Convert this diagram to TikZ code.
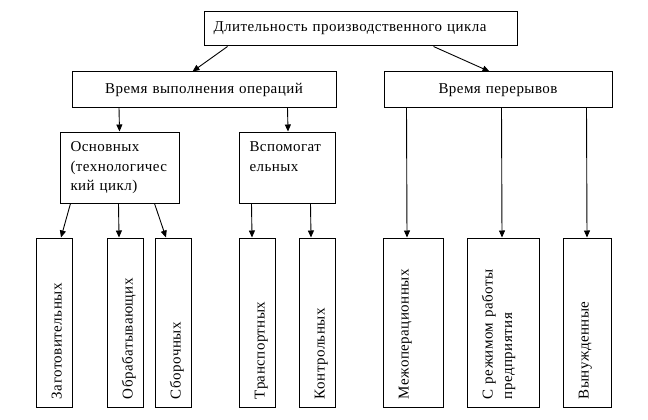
\documentclass[tikz,border=0pt]{standalone}
\usepackage{fontspec}
\setmainfont{Liberation Serif}[LetterSpace=3]
\usetikzlibrary{arrows.meta}
\begin{document}
\begin{tikzpicture}[x=1pt,y=-1pt,
  box/.style={draw, line width=1pt, inner ysep=0pt, font=\fontsize{15pt}{19.5pt}\selectfont},
  hbox/.style={box, inner xsep=10pt},
  vbox/.style={box, rotate=90, inner xsep=8pt, minimum width=169pt, text width=153pt, text height=25.5pt, align=left},
  arr/.style={line width=0.9pt, -{Triangle[length=7pt,width=6pt]}}
]
\useasboundingbox (0,0) rectangle (648,420);

\node[hbox, inner xsep=9.5pt, minimum width=313pt, minimum height=34pt, text width=294pt, text height=20pt, text depth=14pt, align=left] (top) at (360.5,29) {Длительность производственного цикла};

\node[hbox, minimum width=264pt, minimum height=35pt, text width=244pt, text height=21.5pt, text depth=13.5pt, align=center] (vyp) at (204,89.5) {Время выполнения операций};
\node[hbox, minimum width=228pt, minimum height=35pt, text width=208pt, text height=21.5pt, text depth=13.5pt, align=center] (per) at (498,89.5) {Время перерывов};

\node[hbox, inner xsep=10.5pt, minimum width=119pt, minimum height=71pt, text width=98pt, text height=19.5pt, text depth=51.5pt, align=left] (osn) at (119.5,167.5) {Основных\\(технологичес\\кий цикл)};
\node[hbox, inner xsep=10.5pt, minimum width=96pt, minimum height=71pt, text width=75pt, text height=19.5pt, text depth=51.5pt, align=left] (vsp) at (287,167.5) {Вспомогат\\ельных};

\node[vbox, minimum height=36pt, text depth=10.5pt] (zag) at (54,322.5) {Заготовительных};
\node[vbox, minimum height=36pt, text depth=10.5pt] (obr) at (125,322.5) {Обрабатывающих};
\node[vbox, minimum height=36pt, text depth=10.5pt] (sbo) at (173,322.5) {Сборочных};
\node[vbox, minimum height=36pt, text depth=10.5pt] (tra) at (257,322.5) {Транспортных};
\node[vbox, minimum height=36pt, text depth=10.5pt] (kon) at (317,322.5) {Контрольных};
\node[vbox, minimum height=60pt, text depth=34.5pt] (mez) at (413,322.5) {Межоперационных};
\node[vbox, minimum height=72pt, text depth=46.5pt] (rez) at (503,322.5) {С режимом работы\\предприятия};
\node[vbox, minimum height=48pt, text depth=22.5pt] (vyn) at (587,322.5) {Вынужденные};

\draw[arr] ([xshift=24pt]top.south west) -- ([xshift=121pt]vyp.north west);
\draw[arr] ([xshift=230pt]top.south west) -- ([xshift=106pt]per.north west);
\draw[arr] ([xshift=47.5pt]vyp.south west) -- (osn.north);
\draw[arr] ([xshift=216pt]vyp.south west) -- ([xshift=1pt]vsp.north);
\draw[arr] ([xshift=23pt]per.south west) -- ([xshift=-6pt]mez.east);
\draw[arr] ([xshift=118pt]per.south west) -- ([xshift=-1pt]rez.east);
\draw[arr] ([xshift=203pt]per.south west) -- (vyn.east);
\draw[arr] ([xshift=11pt]osn.south west) -- ([xshift=7pt]zag.east);
\draw[arr] ([xshift=59pt]osn.south west) -- ([xshift=-6pt]obr.east);
\draw[arr] ([xshift=95pt]osn.south west) -- ([xshift=-7pt]sbo.east);
\draw[arr] ([xshift=13pt]vsp.south west) -- ([xshift=-5pt]tra.east);
\draw[arr] ([xshift=72pt]vsp.south west) -- ([xshift=-6pt]kon.east);
\end{tikzpicture}
\end{document}
